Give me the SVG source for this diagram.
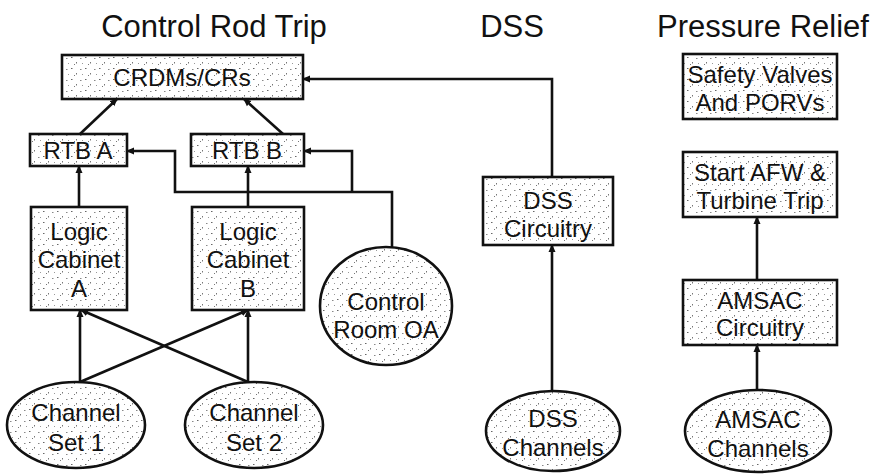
<svg xmlns="http://www.w3.org/2000/svg" width="887" height="476" viewBox="0 0 887 476">
<style>
.title{font-family:"Liberation Sans",Arial,sans-serif;font-size:31px;fill:#111;text-anchor:middle}
.lbl{font-family:"Liberation Sans",Arial,sans-serif;font-size:24px;fill:#111;text-anchor:middle}
.node{fill:url(#stip);stroke:#111;stroke-width:2.6}
.conn{fill:none;stroke:#111;stroke-width:2.6;marker-end:url(#ah)}
</style>
<defs>
<pattern id="stip" width="14" height="11" patternUnits="userSpaceOnUse">
<rect width="14" height="11" fill="#fff"/>
<rect x="1" y="2" width="1.5" height="1" fill="#666"/>
<rect x="6" y="7" width="1" height="1.5" fill="#777"/>
<rect x="10" y="3" width="1.5" height="1" fill="#888"/>
<rect x="4" y="9" width="1" height="1" fill="#777"/>
<rect x="12" y="8" width="1" height="1" fill="#999"/>
</pattern>
<marker id="ah" markerWidth="8" markerHeight="8" refX="7" refY="4" orient="auto" markerUnits="userSpaceOnUse">
<path d="M0,0.5 L8,4 L0,7.5 Z" fill="#111"/>
</marker>
</defs>
<rect width="887" height="476" fill="#fff"/>
<text class="title" x="214" y="37">Control Rod Trip</text>
<text class="title" x="512" y="37">DSS</text>
<text class="title" x="763" y="37">Pressure Relief</text>
<g id="connectors">
<path class="conn" d="M80,134 L117,99"/>
<path class="conn" d="M283,134 L244,99"/>
<path class="conn" d="M79,207 V166"/>
<path class="conn" d="M248,207 V166"/>
<path class="conn" d="M392,247 V192 H175 V151 H127"/>
<path class="conn" d="M352,192 V151 H304"/>
<path class="conn" d="M552,177 V79 H303"/>
<path class="conn" d="M80,382 V310"/>
<path class="conn" d="M80,382 L248,310"/>
<path class="conn" d="M248,382 L81,310"/>
<path class="conn" d="M248,382 V310"/>
<path class="conn" d="M552,391 V245"/>
<path class="conn" d="M757,280 V217"/>
<path class="conn" d="M757,390 V345"/>
</g>
<g id="crdms"><rect class="node" x="62" y="55" width="241" height="44"/><text class="lbl" x="182" y="86">CRDMs/CRs</text></g>
<g id="rtb-a"><rect class="node" x="30" y="134" width="97" height="32"/><text class="lbl" x="78" y="159">RTB A</text></g>
<g id="rtb-b"><rect class="node" x="191" y="134" width="113" height="32"/><text class="lbl" x="247" y="159">RTB B</text></g>
<g id="logic-a"><rect class="node" x="31" y="207" width="96" height="103"/><text class="lbl" x="79" y="240">Logic</text><text class="lbl" x="79" y="268">Cabinet</text><text class="lbl" x="79" y="297">A</text></g>
<g id="logic-b"><rect class="node" x="192" y="207" width="112" height="103"/><text class="lbl" x="248" y="240">Logic</text><text class="lbl" x="248" y="268">Cabinet</text><text class="lbl" x="248" y="297">B</text></g>
<g id="control-room"><ellipse class="node" cx="386" cy="306" rx="66" ry="59"/><text class="lbl" x="386" y="310">Control</text><text class="lbl" x="386" y="338">Room OA</text></g>
<g id="channel-set-1"><ellipse class="node" cx="76" cy="425" rx="69" ry="43"/><text class="lbl" x="76" y="421">Channel</text><text class="lbl" x="76" y="451">Set 1</text></g>
<g id="channel-set-2"><ellipse class="node" cx="254" cy="425" rx="69" ry="43"/><text class="lbl" x="254" y="421">Channel</text><text class="lbl" x="254" y="451">Set 2</text></g>
<g id="dss-circuitry"><rect class="node" x="483" y="177" width="130" height="68"/><text class="lbl" x="548" y="209">DSS</text><text class="lbl" x="548" y="237">Circuitry</text></g>
<g id="dss-channels"><ellipse class="node" cx="553" cy="431" rx="67" ry="40"/><text class="lbl" x="553" y="427">DSS</text><text class="lbl" x="553" y="456">Channels</text></g>
<g id="safety-valves"><rect class="node" x="683" y="54" width="154" height="65"/><text class="lbl" x="760" y="83">Safety Valves</text><text class="lbl" x="760" y="111">And PORVs</text></g>
<g id="start-afw"><rect class="node" x="683" y="152" width="154" height="65"/><text class="lbl" x="760" y="181">Start AFW &amp;</text><text class="lbl" x="760" y="209">Turbine Trip</text></g>
<g id="amsac-circuitry"><rect class="node" x="683" y="280" width="154" height="65"/><text class="lbl" x="760" y="309">AMSAC</text><text class="lbl" x="760" y="336">Circuitry</text></g>
<g id="amsac-channels"><ellipse class="node" cx="758" cy="431" rx="73" ry="41"/><text class="lbl" x="758" y="428">AMSAC</text><text class="lbl" x="758" y="457">Channels</text></g>
</svg>
